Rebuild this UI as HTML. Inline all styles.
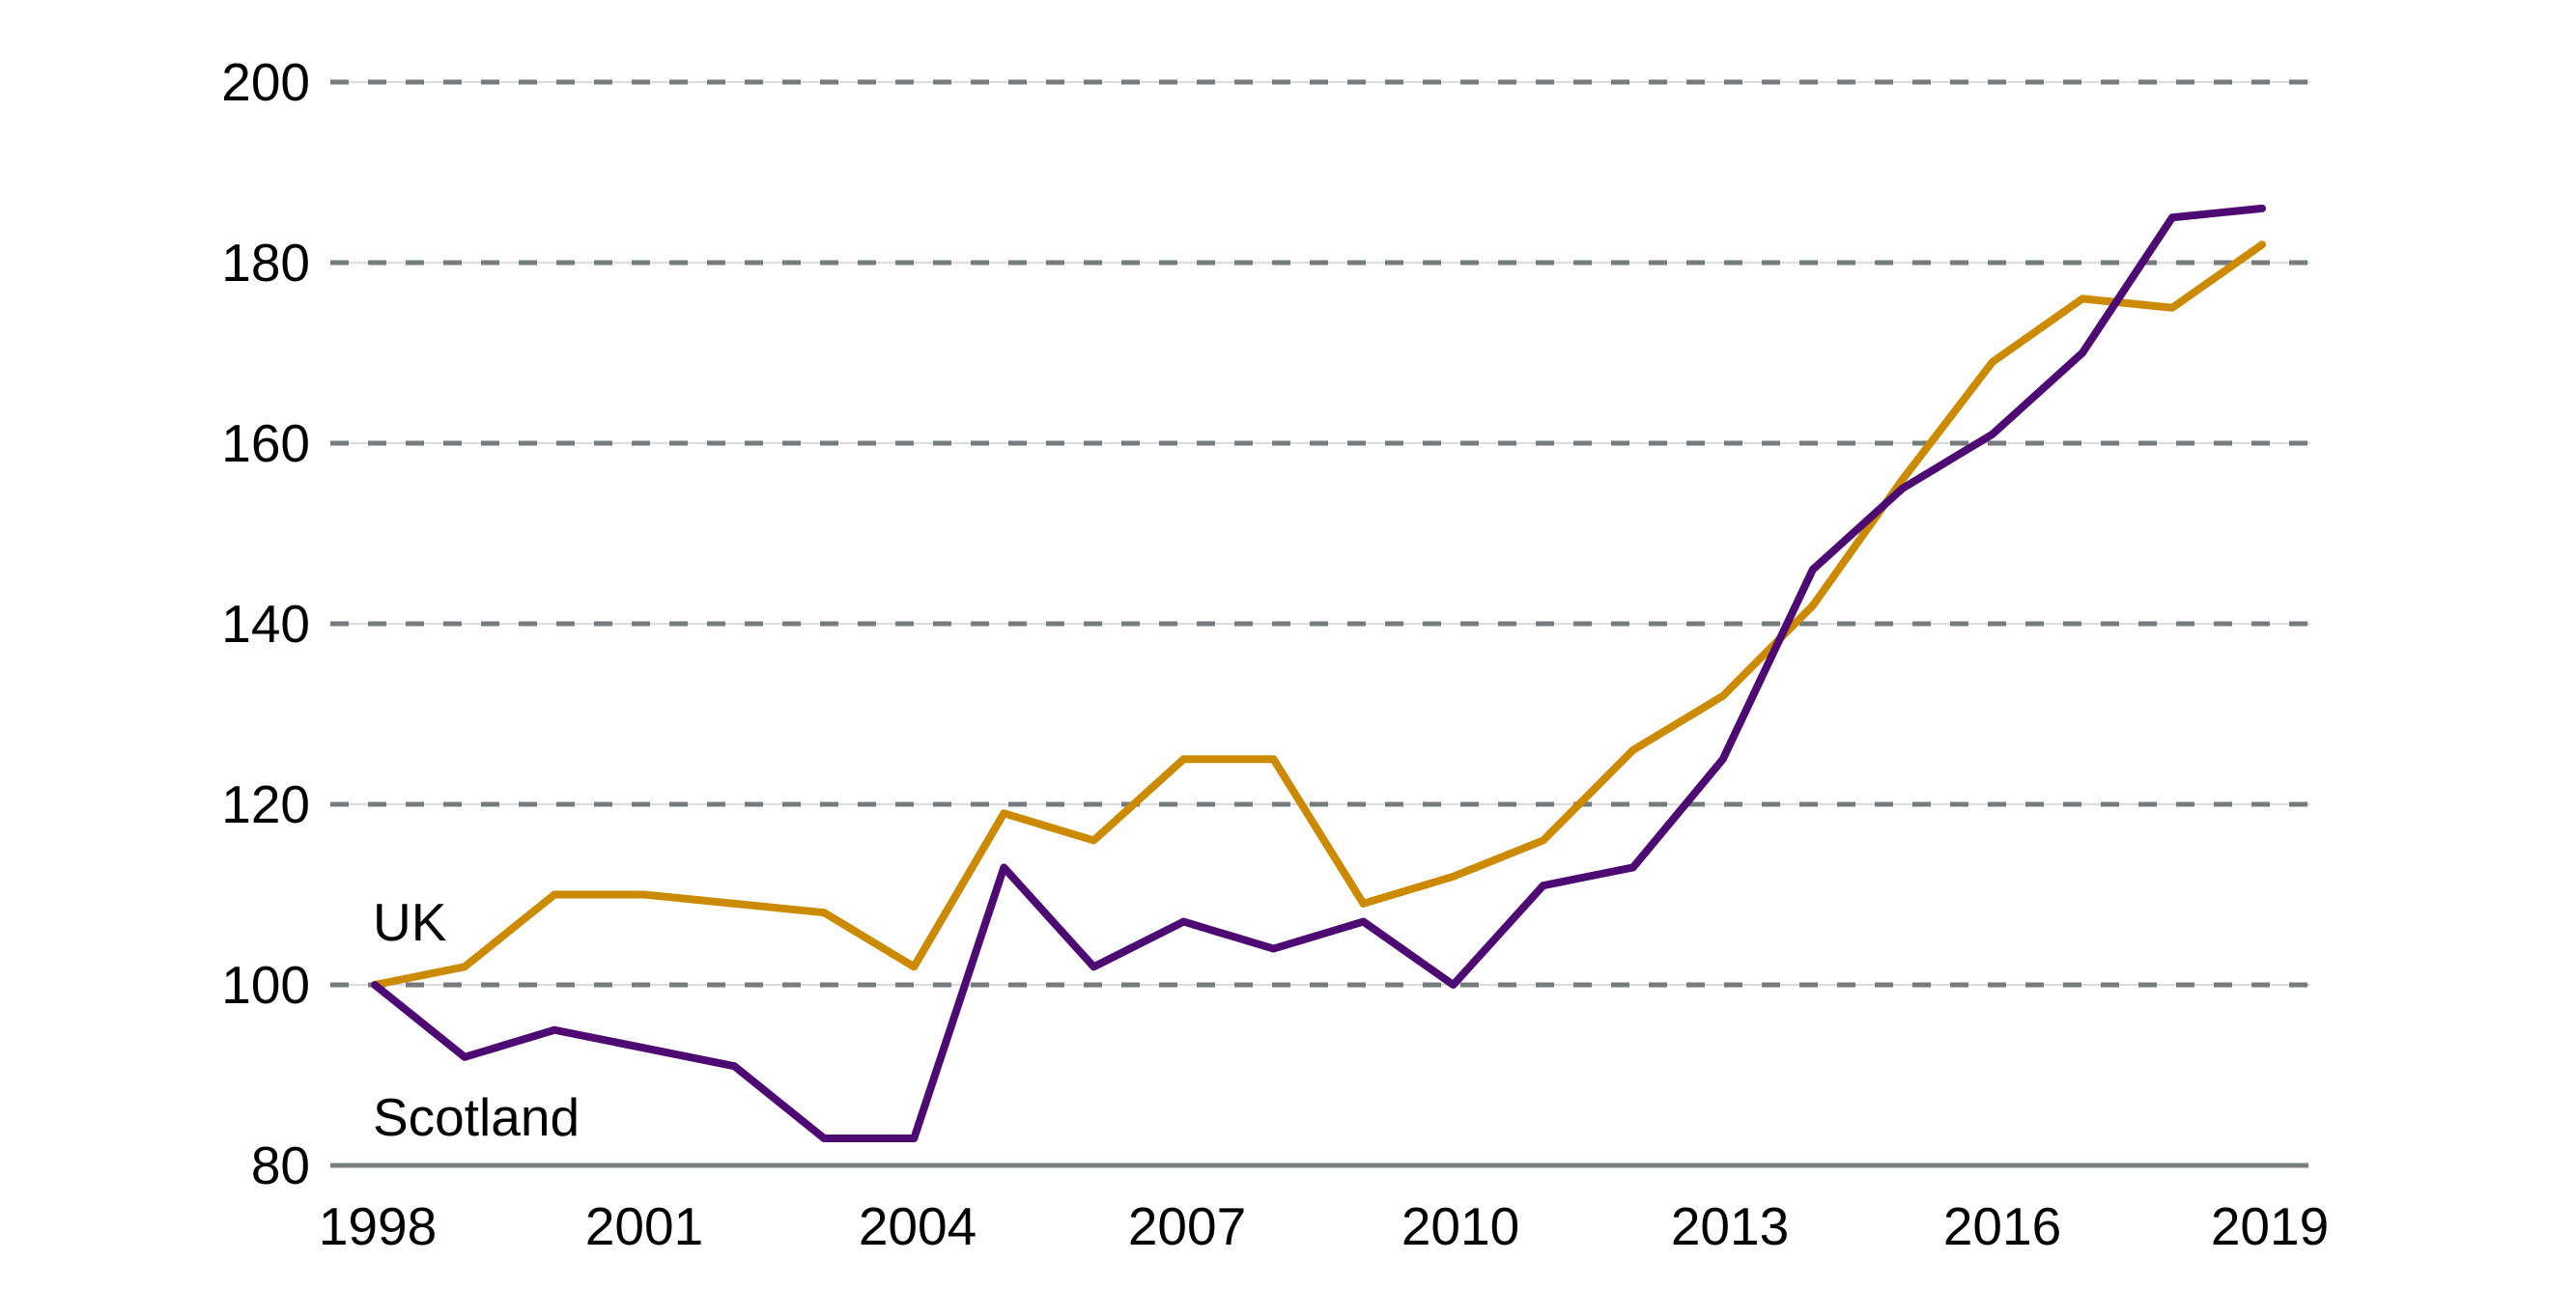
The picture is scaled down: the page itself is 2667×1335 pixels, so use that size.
<!DOCTYPE html>
<html><head><meta charset="utf-8"><style>
html,body{margin:0;padding:0;background:#fff;}
svg{display:block;}
text{font-family:"Liberation Sans",sans-serif;fill:#000;}
</style></head><body>
<svg width="2667" height="1335" viewBox="0 0 2667 1335" xmlns="http://www.w3.org/2000/svg">
<g stroke="#dcdcdc" stroke-width="2">
<line x1="342" y1="85" x2="2392" y2="85"/><line x1="342" y1="272" x2="2392" y2="272"/>
<line x1="342" y1="459" x2="2392" y2="459"/><line x1="342" y1="646" x2="2392" y2="646"/>
<line x1="342" y1="833" x2="2392" y2="833"/><line x1="342" y1="1020" x2="2392" y2="1020"/>
</g>
<g stroke="#767b7e" stroke-width="5" stroke-dasharray="19 20">
<line x1="342" y1="85" x2="2392" y2="85"/><line x1="342" y1="272" x2="2392" y2="272"/>
<line x1="342" y1="459" x2="2392" y2="459"/><line x1="342" y1="646" x2="2392" y2="646"/>
<line x1="342" y1="833" x2="2392" y2="833"/><line x1="342" y1="1020" x2="2392" y2="1020"/>
</g>
<line x1="342" y1="1207" x2="2390" y2="1207" stroke="#7a7f82" stroke-width="5"/>
<g font-size="55" text-anchor="end">
<text x="321" y="104">200</text><text x="321" y="291">180</text><text x="321" y="478">160</text>
<text x="321" y="665">140</text><text x="321" y="852">120</text><text x="321" y="1039">100</text>
<text x="321" y="1226">80</text>
</g>
<g font-size="55" text-anchor="middle">
<text x="391" y="1289">1998</text><text x="667" y="1289">2001</text><text x="950" y="1289">2004</text>
<text x="1229" y="1289">2007</text><text x="1512" y="1289">2010</text><text x="1791" y="1289">2013</text>
<text x="2073" y="1289">2016</text><text x="2350" y="1289">2019</text>
</g>
<text x="386" y="974" font-size="55">UK</text>
<text x="386" y="1176" font-size="55">Scotland</text>
<polyline fill="none" stroke="#cc8a00" stroke-width="8" stroke-linejoin="round" stroke-linecap="round"
points="388,1020 481.05,1001.3 574.1,926.5 667.15,926.5 760.2,935.85 853.25,945.2 946.3,1001.3 1039.35,842.35 1132.4,870.4 1225.45,786.25 1318.5,786.25 1411.55,935.85 1504.6,907.8 1597.65,870.4 1690.7,776.9 1783.75,720.8 1876.8,627.3 1969.85,496.4 2062.9,374.85 2155.95,309.4 2249,318.75 2342.05,253.3"/>
<polyline fill="none" stroke="#4e0a73" stroke-width="8" stroke-linejoin="round" stroke-linecap="round"
points="388,1020 481.05,1094.8 574.1,1066.75 667.15,1085.45 760.2,1104.15 853.25,1178.95 946.3,1178.95 1039.35,898.45 1132.4,1001.3 1225.45,954.55 1318.5,982.6 1411.55,954.55 1504.6,1020 1597.65,917.15 1690.7,898.45 1783.75,786.25 1876.8,589.9 1969.85,505.75 2062.9,449.65 2155.95,365.5 2249,225.25 2342.05,215.9"/>
</svg>
</body></html>
